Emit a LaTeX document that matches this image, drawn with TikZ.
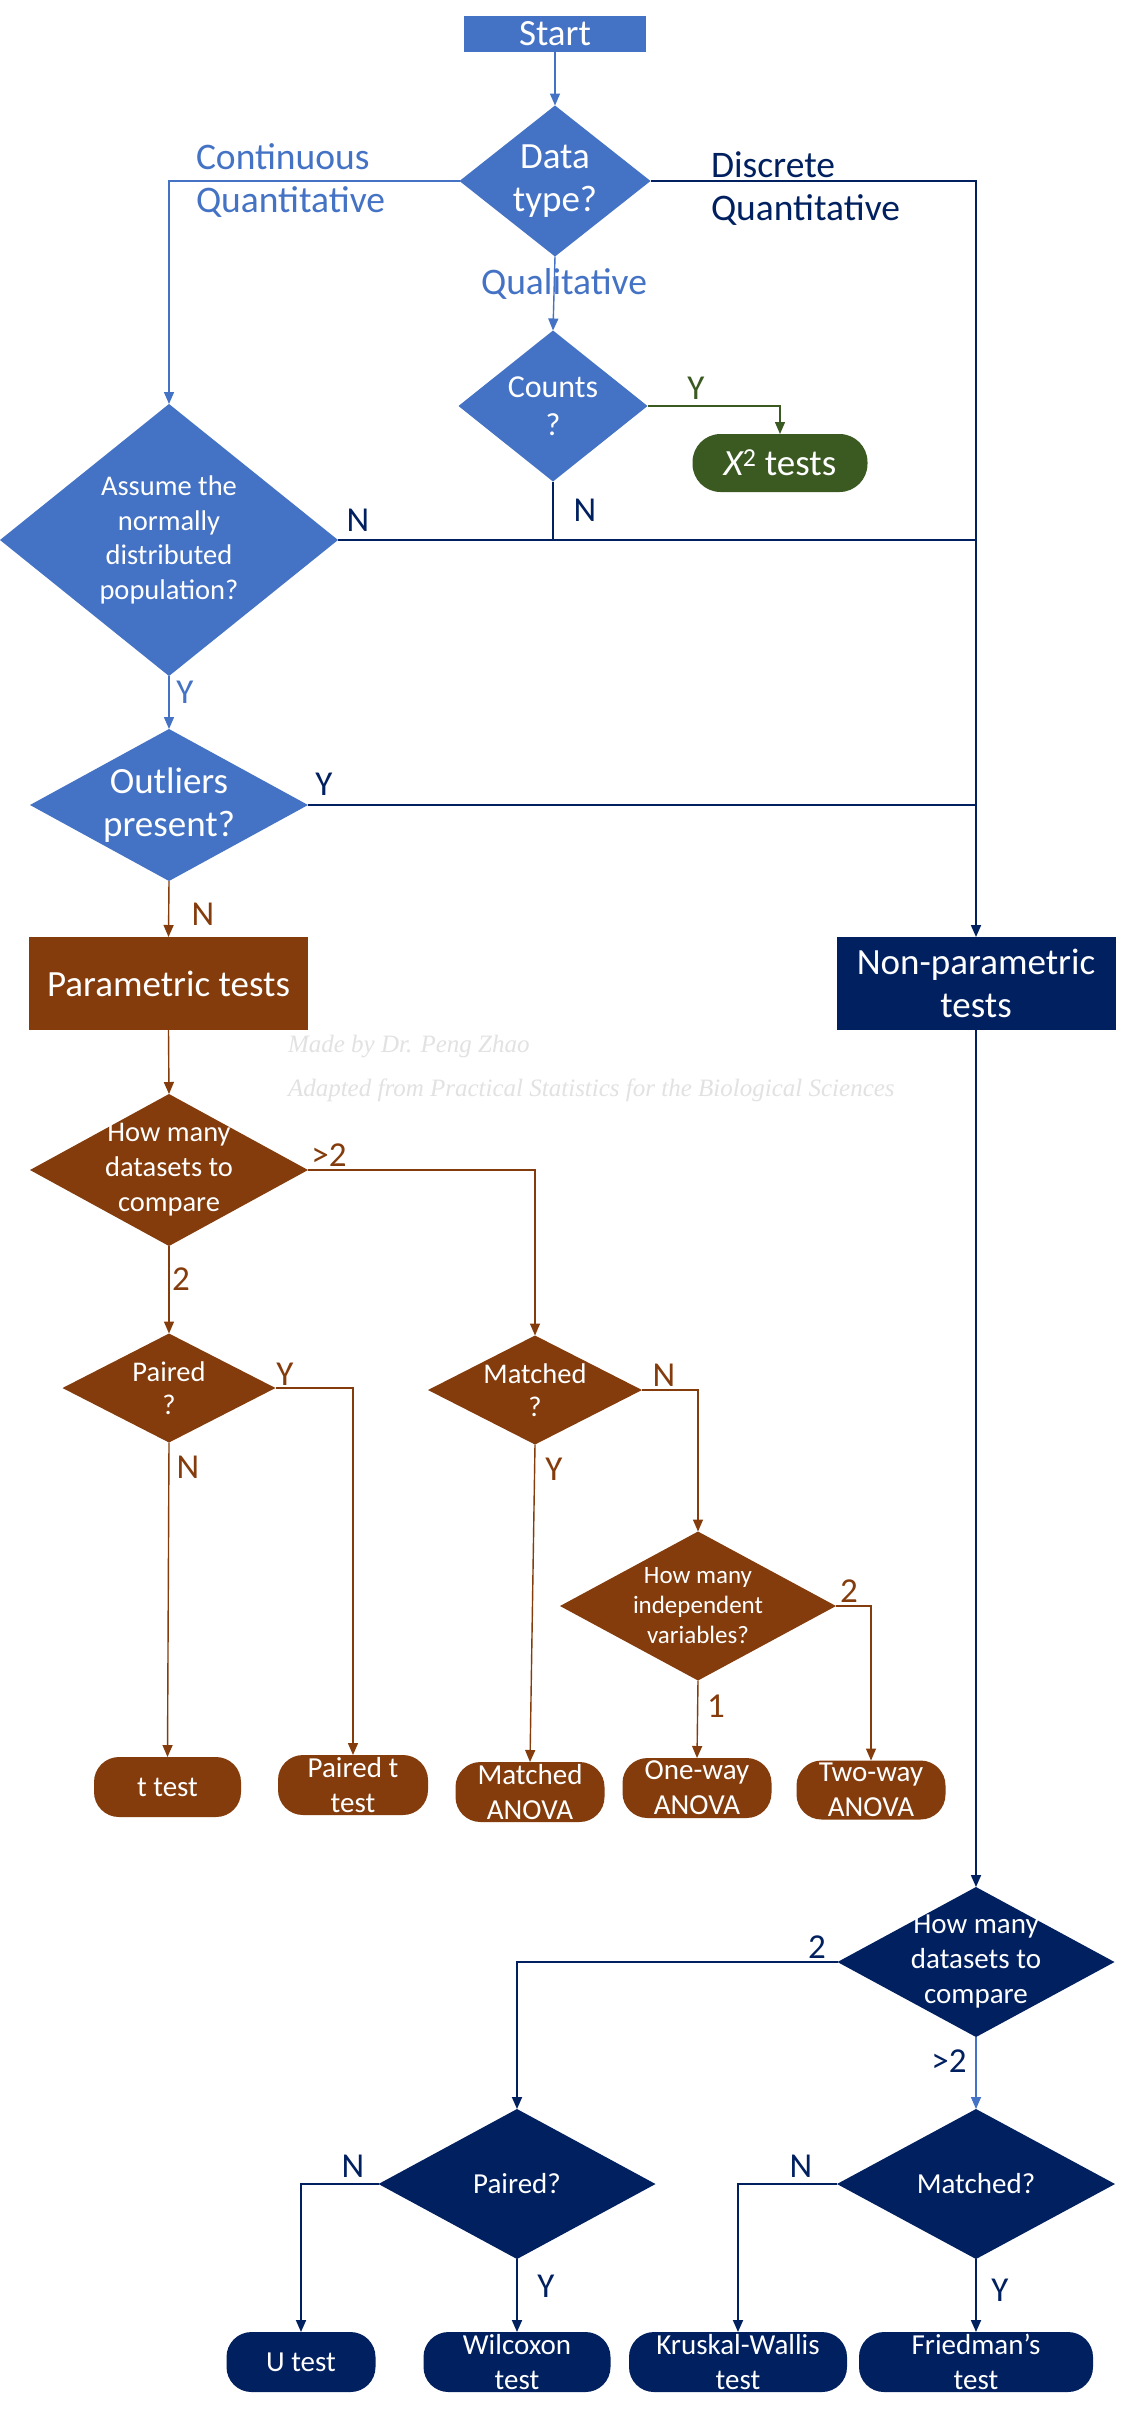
\documentclass[tikz,border=0pt]{standalone}
\usepackage{fontspec}
\setmainfont{Carlito}
\newfontfamily\wmfont{Liberation Serif}
\usetikzlibrary{shapes.geometric,arrows.meta}
\definecolor{cblue}{HTML}{4472C4}
\definecolor{cnavy}{HTML}{002060}
\definecolor{cbrown}{HTML}{843C0C}
\definecolor{cgreen}{HTML}{3A5A22}
\definecolor{cwm}{HTML}{E2E2E2}
\begin{document}
\begin{tikzpicture}[x=1pt,y=-1pt,
  every node/.style={inner sep=0pt, outer sep=0pt},
  dia/.style={shape=diamond, fill=#1},
  tbox/.style={rectangle, fill=#1, text=white, align=center},
  term/.style={rectangle, rounded corners=25pt, fill=#1, text=white, align=center, font=\fontsize{29}{35}\selectfont},
  fbig/.style={font=\fontsize{37}{43}\selectfont},
  fmid/.style={font=\fontsize{28.5}{35}\selectfont},
  dtxt/.style={text=white, align=center},
  lbl/.style={font=\fontsize{35}{42}\selectfont},
  blbl/.style={font=\fontsize{37.5}{43}\selectfont},
  conn/.style={-{Triangle[length=12pt,width=10pt]}, line width=1.4pt},
  ln/.style={line width=1.4pt},
  nv/.style={cnavy, line width=1.8pt},
]
\fill[white] (0,0) rectangle (1128,2415);
\useasboundingbox (0,0) rectangle (1128,2415);

% watermark
\node[anchor=base west, text=cwm, font=\wmfont\itshape\fontsize{25}{28}\selectfont] (wm1) at (288,1052) {Made by Dr. Peng Zhao};
\node[anchor=base west, text=cwm, font=\wmfont\itshape\fontsize{25}{28}\selectfont] (wm2) at (288,1096) {Adapted from Practical Statistics for the Biological Sciences};

% top part
\node[tbox=cblue, fbig, minimum width=182pt, minimum height=36pt] (start) at (555,34) {Start};
\node[dia=cblue, minimum width=191pt, minimum height=151pt,
  label={[dtxt,fbig]center:{Data\\type?}}] (datatype) at (555,181) {};
\node[dia=cblue, minimum width=189pt, minimum height=151pt,
  label={[dtxt,font=\fontsize{32}{38}\selectfont]center:{Counts\\?}}] (counts) at (553,406) {};
\node[term=cgreen, rounded corners=28pt, fbig, minimum width=175pt, minimum height=58pt] (chi) at (780,463) {{\itshape X}\textsuperscript{2} tests};
\node[dia=cblue, minimum width=338pt, minimum height=272pt,
  label={[dtxt,font=\fontsize{28.5}{34.5}\selectfont]center:{Assume the\\normally\\distributed\\population?}}] (assume) at (169,540) {};
\node[dia=cblue, minimum width=278pt, minimum height=152pt,
  label={[dtxt,fbig]center:{Outliers\\present?}}] (outliers) at (169,805) {};
\node[tbox=cbrown, fbig, minimum width=279pt, minimum height=93pt] (param) at (168.5,983.5) {Parametric tests};
\node[tbox=cnavy, fbig, minimum width=279pt, minimum height=93pt] (nonparam) at (976,983.5) {Non-parametric\\tests};

% parametric branch
\node[dia=cbrown, minimum width=278pt, minimum height=152pt,
  label={[dtxt,fmid]center:{How many\\datasets to\\compare}}] (howP) at (169,1170) {};
\node[dia=cbrown, minimum width=213pt, minimum height=109pt,
  label={[dtxt,font=\fontsize{28.5}{33}\selectfont]center:{Paired\\?}}] (paired) at (169,1388) {};
\node[dia=cbrown, minimum width=214pt, minimum height=109pt,
  label={[dtxt,font=\fontsize{28.5}{33}\selectfont]center:{Matched\\?}}] (matched) at (535,1390) {};
\node[dia=cbrown, minimum width=276pt, minimum height=149pt,
  label={[dtxt,font=\fontsize{25}{30}\selectfont]center:{How many\\independent\\variables?}}] (indep) at (698,1606) {};
\node[term=cbrown, minimum width=147pt, minimum height=60pt] (ttest) at (167.5,1787) {t test};
\node[term=cbrown, minimum width=150pt, minimum height=60pt] (pairedt) at (353,1785) {Paired t\\test};
\node[term=cbrown, minimum width=149pt, minimum height=60pt] (matchedA) at (530,1792) {Matched\\ANOVA};
\node[term=cbrown, minimum width=149pt, minimum height=60pt] (oneway) at (697,1788) {One-way\\ANOVA};
\node[term=cbrown, minimum width=149pt, minimum height=59pt] (twoway) at (871,1790) {Two-way\\ANOVA};

% non-parametric branch
\node[dia=cnavy, minimum width=277pt, minimum height=150pt,
  label={[dtxt,font=\fontsize{29}{35}\selectfont]center:{How many\\datasets to\\compare}}] (howN) at (976,1962) {};
\node[dia=cnavy, minimum width=277pt, minimum height=150pt,
  label={[dtxt,font=\fontsize{29}{35}\selectfont]center:{Paired?}}] (pairedN) at (517,2184) {};
\node[dia=cnavy, minimum width=278pt, minimum height=150pt,
  label={[dtxt,font=\fontsize{29}{35}\selectfont]center:{Matched?}}] (matchedN) at (976,2184) {};
\node[term=cnavy, minimum width=149pt, minimum height=60pt] (utest) at (301,2362) {U test};
\node[term=cnavy, minimum width=187pt, minimum height=60pt] (wilcoxon) at (517,2362) {Wilcoxon\\test};
\node[term=cnavy, minimum width=218pt, minimum height=60pt] (kruskal) at (738,2362) {Kruskal-Wallis\\test};
\node[term=cnavy, minimum width=234pt, minimum height=60pt] (friedman) at (976,2362) {Friedman’s\\test};

% connectors
\coordinate (jn) at (976,540);
\draw[conn, cblue] (start.south) -- (datatype.north);
\draw[conn, cblue] (datatype.west) -| (assume.north);
\draw[conn, nv] (datatype.east) -| (nonparam.north);
\draw[conn, cblue] (datatype.south) -- (counts.north);
\draw[conn, cgreen] (counts.east) -| (chi.north);
\draw[ln, nv] (counts.south) |- (jn);
\draw[ln, nv] (assume.east) -- (jn);
\draw[conn, cblue] (assume.south) -- (outliers.north);
\draw[ln, nv] (outliers.east) -- (outliers.east -| nonparam.north);
\draw[conn, cbrown] (outliers.south) -- (param.north);
\draw[conn, cbrown] (param.south) -- (howP.north);
\draw[conn, cbrown] (howP.east) -| (matched.north);
\draw[conn, cbrown] (howP.south) -- (paired.north);
\draw[conn, cbrown] (paired.east) -| (pairedt.north);
\draw[conn, cbrown] (paired.south) -- (ttest.north);
\draw[conn, cbrown] (matched.east) -| (indep.north);
\draw[conn, cbrown] (matched.south) -- (matchedA.north);
\draw[conn, cbrown] (indep.east) -| (twoway.north);
\draw[conn, cbrown] (indep.south) -- (oneway.north);
\draw[conn, nv] (nonparam.south) -- (howN.north);
\draw[conn, nv] (howN.west) -| (pairedN.north);
\draw[conn, cblue] (howN.south) -- (matchedN.north);
\draw[conn, nv] (pairedN.west) -| (utest.north);
\draw[conn, nv] (pairedN.south) -- (wilcoxon.north);
\draw[conn, nv] (matchedN.west) -| (kruskal.north);
\draw[conn, nv] (matchedN.south) -- (friedman.north);

% labels
\node[blbl, text=cblue, anchor=west, align=left] (lcont) at (196,181) {Continuous\\Quantitative};
\node[blbl, text=cnavy, anchor=west, align=left] (ldisc) at (711,189) {Discrete\\Quantitative};
\node[blbl, text=cblue] (lqual) at (564,284) {Qualitative};
\node[lbl, text=cgreen] (lcy) at (696,388) {Y};
\node[lbl, text=cnavy] (lcn) at (585,510) {N};
\node[lbl, text=cnavy] (lan) at (358,520) {N};
\node[lbl, text=cblue] (lay) at (185,692) {Y};
\node[lbl, text=cnavy] (loy) at (324,784) {Y};
\node[lbl, text=cbrown] (lon) at (203,914) {N};
\node[lbl, text=cbrown] (lh2) at (329,1155) {>2};
\node[lbl, text=cbrown] (lh1) at (181,1279) {2};
\node[lbl, text=cbrown] (lpy) at (285,1374) {Y};
\node[lbl, text=cbrown] (lpn) at (188,1467) {N};
\node[lbl, text=cbrown] (lmn) at (664,1375) {N};
\node[lbl, text=cbrown] (lmy) at (554,1469) {Y};
\node[lbl, text=cbrown] (li2) at (849,1591) {2};
\node[lbl, text=cbrown] (li1) at (716,1706) {1};
\node[lbl, text=cnavy] (ln2) at (817,1947) {2};
\node[lbl, text=cnavy] (lng) at (949,2061) {>2};
\node[lbl, text=cnavy] (lpn2) at (353,2166) {N};
\node[lbl, text=cnavy] (lpy2) at (546,2286) {Y};
\node[lbl, text=cnavy] (lmn2) at (801,2166) {N};
\node[lbl, text=cnavy] (lmy2) at (1000,2290) {Y};
\end{tikzpicture}
\end{document}
